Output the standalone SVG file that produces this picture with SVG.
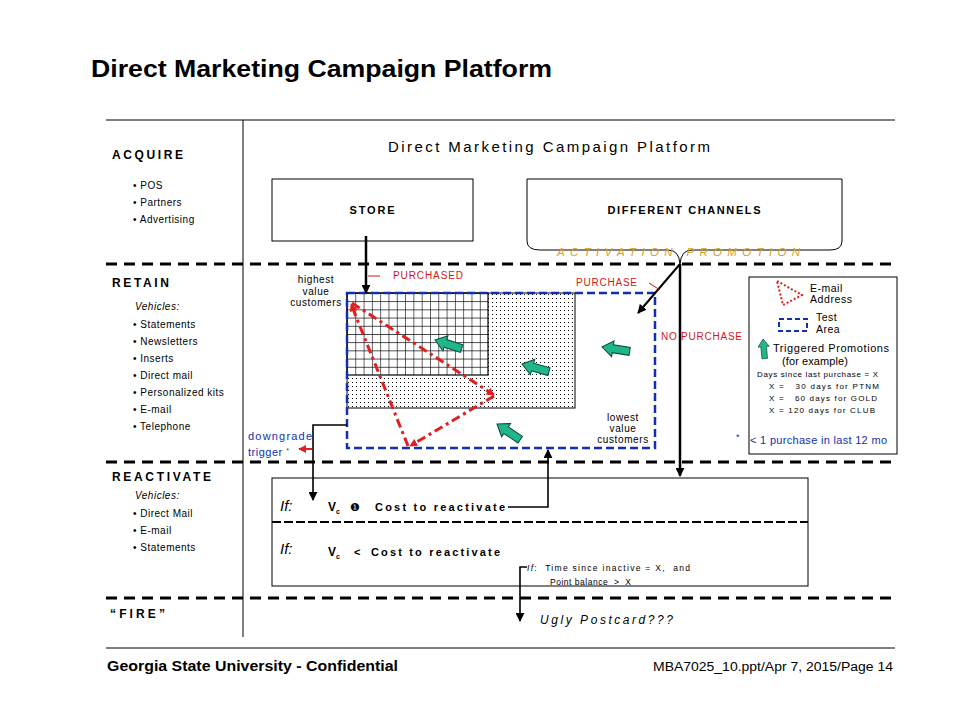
<svg xmlns="http://www.w3.org/2000/svg" width="960" height="720" viewBox="0 0 960 720">
<style>
text{font-family:"Liberation Sans",Arial,sans-serif;fill:#000}
.sec{font-size:12px;font-weight:bold}
.li{font-size:10px;letter-spacing:0.5px}
.veh{font-size:10px;font-style:italic;letter-spacing:0.5px}
.dash{stroke:#000;stroke-width:3;stroke-dasharray:11 7;fill:none}
.thin{stroke:#000;stroke-width:1;fill:none}
.red{fill:#d01818}
.blue{fill:#1030b0}
.conn{stroke:#000;stroke-width:1.6;fill:none}
.ga{fill:#20b58a;stroke:#0b4a3a;stroke-width:1}
.cl{font-size:10px;letter-spacing:0.6px}
</style>
<defs>
<marker id="ah" viewBox="0 0 10 10" refX="9" refY="5" markerWidth="9" markerHeight="9" markerUnits="userSpaceOnUse" orient="auto"><path d="M0,0 L10,5 L0,10 Z" fill="#000"/></marker>
<marker id="ahr" viewBox="0 0 10 10" refX="9" refY="5" markerWidth="8" markerHeight="8" markerUnits="userSpaceOnUse" orient="auto"><path d="M0,0 L10,5 L0,10 Z" fill="#e02020"/></marker>
<pattern id="grid" x="347" y="293" width="8.3" height="8.2" patternUnits="userSpaceOnUse"><rect width="8.3" height="8.2" fill="#fff"/><path d="M0,0 H8.3 M0,0 V8.2" stroke="#000" stroke-width="1.2"/></pattern>
<pattern id="dots" x="347" y="293" width="4" height="4" patternUnits="userSpaceOnUse"><rect width="4" height="4" fill="#fff"/><rect x="1" y="1" width="1" height="1" fill="#000"/></pattern>
<polygon id="garrow" points="0,0 11,-8 11,-4 28,-4 28,4 11,4 11,8"/>
</defs>

<!-- page frame -->
<g id="page">
<text x="91" y="77" font-size="23" font-weight="bold" textLength="461" lengthAdjust="spacingAndGlyphs">Direct Marketing Campaign Platform</text>
<line x1="106" y1="120" x2="895" y2="120" class="thin"/>
<line x1="243" y1="120" x2="243" y2="637" class="thin"/>
<line x1="106" y1="264" x2="895" y2="264" class="dash"/>
<line x1="106" y1="462" x2="895" y2="462" class="dash"/>
<line x1="106" y1="598" x2="895" y2="598" class="dash"/>
<line x1="106" y1="648" x2="895" y2="648" class="thin"/>
<text x="107" y="671" font-size="14.5" font-weight="bold" textLength="291" lengthAdjust="spacingAndGlyphs">Georgia State University - Confidential</text>
<text x="893" y="671" font-size="12" text-anchor="end" textLength="240" lengthAdjust="spacingAndGlyphs">MBA7025_10.ppt/Apr 7, 2015/Page 14</text>
</g>

<!-- left column -->
<g id="acquire">
<text x="112" y="159" class="sec" textLength="71" lengthAdjust="spacing">ACQUIRE</text>
<text x="133" y="189" class="li">• POS</text>
<text x="133" y="206" class="li">• Partners</text>
<text x="133" y="223" class="li">• Advertising</text>
</g>
<g id="retain">
<text x="112" y="287" class="sec" textLength="57" lengthAdjust="spacing">RETAIN</text>
<text x="135" y="310" class="veh">Vehicles:</text>
<text x="133" y="328" class="li">• Statements</text>
<text x="133" y="345" class="li">• Newsletters</text>
<text x="133" y="362" class="li">• Inserts</text>
<text x="133" y="379" class="li">• Direct mail</text>
<text x="133" y="396" class="li">• Personalized kits</text>
<text x="133" y="413" class="li">• E-mail</text>
<text x="133" y="430" class="li">• Telephone</text>
</g>
<g id="reactivate">
<text x="112" y="481" class="sec" textLength="99" lengthAdjust="spacing">REACTIVATE</text>
<text x="135" y="499" class="veh">Vehicles:</text>
<text x="133" y="517" class="li">• Direct Mail</text>
<text x="133" y="534" class="li">• E-mail</text>
<text x="133" y="551" class="li">• Statements</text>
</g>
<g id="fire">
<text x="110" y="618" class="sec" textLength="55" lengthAdjust="spacing">“FIRE”</text>
</g>

<text x="388" y="152" font-size="15" textLength="322" lengthAdjust="spacing">Direct Marketing Campaign Platform</text>

<!-- boxes -->
<g id="store">
<rect x="272" y="179" width="201" height="62" fill="#fff" stroke="#000" stroke-width="1"/>
<text x="372" y="214" font-size="11" font-weight="bold" text-anchor="middle" textLength="45" lengthAdjust="spacing">STORE</text>
</g>
<g id="channels">
<path d="M527,241 V179 H842 V241" class="thin"/>
<path d="M527,241 Q527,250 540,250 H668 Q679,250 680,264 Q681,250 692,250 H830 Q842,250 842,241" class="thin"/>
<text x="684" y="214" font-size="11" font-weight="bold" text-anchor="middle" textLength="153" lengthAdjust="spacing">DIFFERENT CHANNELS</text>
<text x="557" y="256" font-size="11.5" font-style="italic" style="fill:#d8a020" textLength="243" lengthAdjust="spacing">ACTIVATION PROMOTION</text>
</g>

<!-- retain area -->
<g id="segments">
<rect x="347" y="293" width="228" height="115" fill="url(#dots)" stroke="#000" stroke-width="1"/>
<rect x="347" y="293" width="141" height="82" fill="url(#grid)" stroke="#000" stroke-width="1.2"/>
<rect x="347" y="293" width="308" height="155" fill="none" stroke="#1030b0" stroke-width="2.5" stroke-dasharray="8 4"/>
</g>
<g id="labels-retain">
<text x="316" y="283" class="cl" text-anchor="middle">highest</text>
<text x="316" y="295" class="cl" text-anchor="middle">value</text>
<text x="316" y="306" class="cl" text-anchor="middle">customers</text>
<text x="623" y="421" class="cl" text-anchor="middle">lowest</text>
<text x="623" y="432" class="cl" text-anchor="middle">value</text>
<text x="623" y="443" class="cl" text-anchor="middle">customers</text>
<text x="393" y="279" font-size="10" class="red" textLength="70" lengthAdjust="spacing">PURCHASED</text>
<text x="576" y="286" font-size="10" class="red" textLength="61" lengthAdjust="spacing">PURCHASE</text>
<text x="661" y="340" font-size="10" class="red" textLength="81" lengthAdjust="spacing">NO PURCHASE</text>
<text x="248" y="440" font-size="11" class="blue" textLength="64" lengthAdjust="spacing">downgrade</text>
<text x="248" y="456" font-size="11" class="blue" letter-spacing="0.5">trigger <tspan font-size="7" dy="-3">*</tspan></text>
</g>

<g id="email-triangle" stroke="#e02020" stroke-width="3" stroke-dasharray="9 4 3 4" fill="none">
<line x1="352" y1="303" x2="494" y2="395" marker-end="url(#ahr)"/>
<line x1="494" y1="396" x2="410" y2="446" marker-end="url(#ahr)"/>
<line x1="408" y1="446" x2="351" y2="304" marker-end="url(#ahr)"/>
</g>

<g id="promo-arrows" class="ga">
<use href="#garrow" transform="translate(435,340) rotate(18)"/>
<use href="#garrow" transform="translate(522,364) rotate(16)"/>
<use href="#garrow" transform="translate(602,347) rotate(9)"/>
<use href="#garrow" transform="translate(497,424) rotate(34)"/>
</g>

<!-- legend -->
<g id="legend">
<rect x="749" y="277" width="148" height="177" fill="#fff" stroke="#000" stroke-width="1"/>
<path d="M777,281 L802,295 L783,305 Z" fill="none" stroke="#e02020" stroke-width="2" stroke-dasharray="2 2"/>
<text x="810" y="292" font-size="10.5" letter-spacing="0.5">E-mail</text>
<text x="810" y="303" font-size="10.5" textLength="42" lengthAdjust="spacing">Address</text>
<rect x="779" y="319" width="28" height="12" fill="none" stroke="#1030b0" stroke-width="2" stroke-dasharray="5 3"/>
<text x="816" y="321" font-size="10.5" letter-spacing="0.5">Test</text>
<text x="816" y="333" font-size="10.5" letter-spacing="0.5">Area</text>
<use href="#garrow" class="ga" transform="translate(763,339) rotate(85) scale(0.7)"/>
<text x="773" y="352" font-size="11" textLength="116" lengthAdjust="spacing">Triggered Promotions</text>
<text x="782" y="365" font-size="11" textLength="66" lengthAdjust="spacing">(for example)</text>
<text x="757" y="377" font-size="8" textLength="121" lengthAdjust="spacing">Days since last purchase = X</text>
<text x="769" y="389" font-size="8" xml:space="preserve" textLength="110" lengthAdjust="spacing">X =   30 days for PTNM</text>
<text x="769" y="401" font-size="8" xml:space="preserve" textLength="108" lengthAdjust="spacing">X =   60 days for GOLD</text>
<text x="769" y="413" font-size="8" textLength="106" lengthAdjust="spacing">X = 120 days for CLUB</text>
<text x="736" y="440" font-size="9" class="blue">*</text>
<text x="750" y="444" font-size="11" class="blue" textLength="137" lengthAdjust="spacing">&lt; 1 purchase in last 12 mo</text>
</g>

<!-- reactivate box -->
<g id="reactivate-box">
<rect x="272" y="478" width="536" height="108" fill="none" stroke="#000" stroke-width="1"/>
<line x1="272" y1="522" x2="808" y2="522" stroke="#000" stroke-width="2" stroke-dasharray="9 3"/>
<text x="280" y="511" font-size="15" font-style="italic">If:</text>
<text x="328" y="511" font-size="12" font-weight="bold">V<tspan font-size="7" dy="3">c</tspan></text>
<text x="350" y="511" font-size="11" font-family="DejaVu Sans">❶</text>
<text x="375" y="511" font-size="11" font-weight="bold" textLength="130" lengthAdjust="spacing">Cost to reactivate</text>
<text x="280" y="554" font-size="15" font-style="italic">If:</text>
<text x="328" y="556" font-size="12" font-weight="bold">V<tspan font-size="7" dy="3">c</tspan></text>
<text x="354" y="556" font-size="11" font-weight="bold">&lt;</text>
<text x="371" y="556" font-size="11" font-weight="bold" textLength="129" lengthAdjust="spacing">Cost to reactivate</text>
<text x="527" y="571" font-size="8.5" xml:space="preserve" textLength="163" lengthAdjust="spacing"><tspan font-style="italic">If</tspan>:  Time since inactive = X,  and</text>
<text x="550" y="585" font-size="8.5" xml:space="preserve" textLength="81" lengthAdjust="spacing">Point balance  &gt;  X</text>
</g>
<g id="ugly">
<text x="540" y="624" font-size="12" font-style="italic" textLength="133" lengthAdjust="spacing">Ugly Postcard???</text>
</g>

<!-- connectors -->
<g id="connectors">
<line x1="366" y1="236" x2="366" y2="293" stroke="#000" stroke-width="2.5" marker-end="url(#ah)"/>
<line x1="680" y1="264" x2="638" y2="313" stroke="#000" stroke-width="2" marker-end="url(#ah)"/>
<line x1="680" y1="264" x2="680" y2="476" stroke="#000" stroke-width="2.5" marker-end="url(#ah)"/>
<line x1="368" y1="276" x2="380" y2="276" stroke="#d01818" stroke-width="1"/>
<line x1="649" y1="283" x2="660" y2="290" stroke="#d01818" stroke-width="1"/>
<path d="M347,425 H313 V500" class="conn" marker-end="url(#ah)"/>
<line x1="312" y1="449" x2="299" y2="449" stroke="#e02020" stroke-width="2" marker-end="url(#ahr)"/>
<path d="M508,507 H548 V450" class="conn" marker-end="url(#ah)"/>
<path d="M527,567 H520 V621" class="conn" marker-end="url(#ah)"/>
</g>
</svg>
